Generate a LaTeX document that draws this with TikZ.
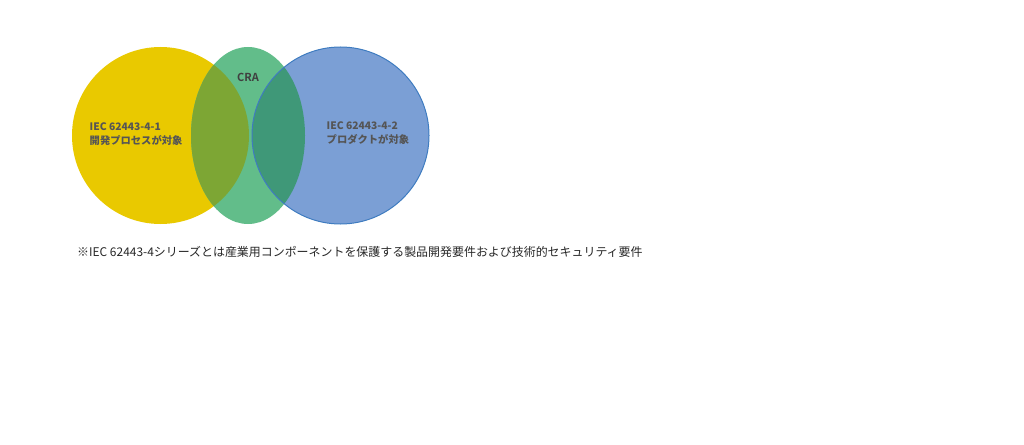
\documentclass[tikz,border=0pt]{standalone}
\usepackage{fontspec}
\newfontfamily\jp{Noto Sans CJK JP}
\newfontfamily\jpb{Noto Sans CJK JP Bold}
\definecolor{cyel}{HTML}{E9C900}
\definecolor{cgrn}{HTML}{62BD8A}
\definecolor{cblu}{HTML}{7B9FD5}
\definecolor{cbluline}{HTML}{3F7CC0}
\definecolor{colive}{HTML}{7DA634}
\definecolor{cteal}{HTML}{3F9878}
\definecolor{ctxt}{HTML}{555555}
\tikzset{
  lbl/.style={font=\jp\bfseries\fontsize{10.3}{14}\selectfont, text=ctxt, align=left, anchor=west, inner sep=0pt},
  note/.style={font=\jp\fontsize{11.95}{14}\selectfont, text=black!85, anchor=west, inner sep=0pt}
}
\begin{document}
\begin{tikzpicture}[x=1pt,y=-1pt]
\useasboundingbox (0,0) rectangle (1024,444);
\def\yel{(160.5,135.5) circle[radius=88.5]}
\def\grn{(248,135.5) ellipse[x radius=57, y radius=88.5]}
\def\blu{(340.5,135.5) circle[radius=88.5]}
\fill[cyel] \yel;
\fill[cgrn] \grn;
\fill[cblu] \blu;
\begin{scope}
  \clip \yel;
  \fill[colive] \grn;
\end{scope}
\begin{scope}
  \clip \blu;
  \fill[cteal] \grn;
\end{scope}
\draw[cbluline, line width=1pt] \blu;
\node[lbl, text=black!75, anchor=center, font=\jpb\fontsize{11}{13}\selectfont] (cra) at (248,77) {CRA};
\node[lbl] (l41) at (89.5,134) {IEC 62443-4-1\\{\jpb 開発プロセスが対象}};
\node[lbl] (l42) at (326.5,133.5) {IEC 62443-4-2\\{\jpb プロダクトが対象}};
\node[note] (fn) at (77,251.5) {※IEC 62443-4シリーズとは産業用コンポーネントを保護する製品開発要件および技術的セキュリティ要件};
\end{tikzpicture}
\end{document}
